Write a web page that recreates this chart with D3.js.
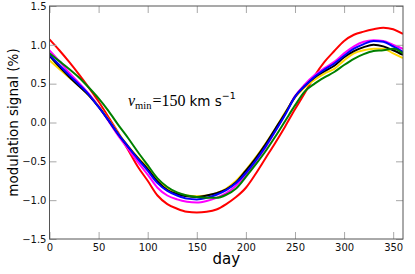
<!DOCTYPE html>
<html>
<head>
<meta charset="utf-8">
<script src="https://cdn.jsdelivr.net/npm/d3@7"></script>
<style>
	body { margin: 0; background: #fff; }
	svg { display: block; }
</style>
</head>
<body>
<svg id="chart" width="415" height="274"></svg>
<script>

var days = d3.range(0, 361, 10);

var redSeries = [1.07, 0.93, 0.78, 0.62, 0.45, 0.27, 0.07, -0.13, -0.35, -0.57, -0.75, -0.94, -1.05, -1.11, -1.15, -1.16, -1.15, -1.12, -1.05, -0.96, -0.84, -0.66, -0.46, -0.26, -0.05, 0.17, 0.38, 0.60, 0.78, 0.92, 1.05, 1.13, 1.17, 1.20, 1.22, 1.20, 1.14];
var magentaSeries = [0.93, 0.79, 0.64, 0.51, 0.37, 0.21, 0.02, -0.17, -0.34, -0.51, -0.67, -0.84, -0.94, -0.99, -1.02, -1.03, -1.01, -0.97, -0.91, -0.81, -0.67, -0.50, -0.32, -0.11, 0.11, 0.34, 0.49, 0.61, 0.70, 0.78, 0.89, 0.98, 1.04, 1.06, 1.05, 1.00, 0.95];
var yellowSeries = [0.80, 0.69, 0.58, 0.47, 0.35, 0.21, 0.04, -0.14, -0.30, -0.45, -0.58, -0.74, -0.85, -0.91, -0.94, -0.95, -0.94, -0.91, -0.85, -0.75, -0.61, -0.45, -0.27, -0.08, 0.13, 0.32, 0.45, 0.55, 0.63, 0.69, 0.80, 0.89, 0.93, 0.95, 0.95, 0.89, 0.83];
var blackSeries = [0.86, 0.72, 0.59, 0.47, 0.35, 0.20, 0.03, -0.15, -0.31, -0.46, -0.60, -0.76, -0.87, -0.92, -0.95, -0.96, -0.94, -0.91, -0.86, -0.77, -0.62, -0.46, -0.28, -0.08, 0.12, 0.33, 0.47, 0.58, 0.66, 0.73, 0.84, 0.92, 0.97, 1.00, 0.98, 0.93, 0.87];
var blueSeries = [0.87, 0.74, 0.61, 0.49, 0.36, 0.20, 0.03, -0.15, -0.31, -0.47, -0.62, -0.78, -0.88, -0.94, -0.98, -0.99, -0.97, -0.93, -0.87, -0.78, -0.65, -0.49, -0.31, -0.11, 0.10, 0.33, 0.47, 0.59, 0.68, 0.76, 0.86, 0.95, 1.01, 1.05, 1.04, 0.98, 0.91];
var greenSeries = [0.89, 0.79, 0.69, 0.58, 0.45, 0.31, 0.15, -0.03, -0.20, -0.38, -0.55, -0.72, -0.83, -0.90, -0.94, -0.96, -0.97, -0.97, -0.93, -0.85, -0.70, -0.54, -0.37, -0.18, 0.02, 0.22, 0.40, 0.50, 0.58, 0.65, 0.74, 0.82, 0.88, 0.92, 0.93, 0.95, 0.89];

var xTicks = [0, 50, 100, 150, 200, 250, 300, 350];
var yTicks = [-1.5, -1.0, -0.5, 0.0, 0.5, 1.0, 1.5];

// drawing order, last on top
var seriesList = [
	{ values: redSeries, color: "#ff0000" },
	{ values: magentaSeries, color: "#ff00ff" },
	{ values: yellowSeries, color: "#ffd700" },
	{ values: blackSeries, color: "#000000" },
	{ values: blueSeries, color: "#0000ff" },
	{ values: greenSeries, color: "#008000" }
];

var LEFT = 49.5, RIGHT = 403, TOP = 6, BOTTOM = 239;
var TICK_LEN = 7;
var TICK_COLOR = "#a8a8a8";
var SPINE_COLOR = "#555555";

var svg = d3.select("#chart");

var x = d3.scaleLinear().domain([0, 360]).range([LEFT, RIGHT]);
var y = d3.scaleLinear().domain([-1.5, 1.5]).range([BOTTOM, TOP]);

svg.append("defs").append("clipPath").attr("id", "plotClip")
	.append("rect")
	.attr("x", LEFT).attr("y", TOP)
	.attr("width", RIGHT - LEFT).attr("height", BOTTOM - TOP);

var line = d3.line()
	.curve(d3.curveMonotoneX)
	.x(function(d) { return x(d[0]); })
	.y(function(d) { return y(d[1]); });

var plot = svg.append("g").attr("clip-path", "url(#plotClip)");

seriesList.forEach(function(s) {
	var pts = days.map(function(d, i) { return [d, s.values[i]]; });
	plot.append("path")
		.attr("d", line(pts))
		.attr("fill", "none")
		.attr("stroke", s.color)
		.attr("stroke-width", 2)
		.attr("stroke-linejoin", "round");
});

// axes: inward ticks on all four sides
function styleAxis(g) {
	g.select(".domain").remove();
	g.selectAll(".tick line").attr("stroke", TICK_COLOR).attr("stroke-width", 1);
	g.selectAll(".tick text")
		.attr("fill", "#111")
		.style("font-family", "DejaVu Sans")
		.style("font-size", "10px");
}

var fmtY = function(v) { return d3.format(".1f")(v).replace("-", "\u2212"); };

svg.append("g")
	.attr("transform", "translate(0," + BOTTOM + ")")
	.call(d3.axisBottom(x).tickValues(xTicks).tickSizeInner(-TICK_LEN).tickSizeOuter(0).tickPadding(5))
	.call(styleAxis);

svg.append("g")
	.attr("transform", "translate(0," + TOP + ")")
	.call(d3.axisTop(x).tickValues(xTicks).tickSizeInner(-TICK_LEN).tickSizeOuter(0).tickFormat(""))
	.call(styleAxis);

svg.append("g")
	.attr("transform", "translate(" + LEFT + ",0)")
	.call(d3.axisLeft(y).tickValues(yTicks).tickSizeInner(-TICK_LEN).tickSizeOuter(0).tickPadding(3).tickFormat(fmtY))
	.call(styleAxis);

svg.append("g")
	.attr("transform", "translate(" + RIGHT + ",0)")
	.call(d3.axisRight(y).tickValues(yTicks).tickSizeInner(-TICK_LEN).tickSizeOuter(0).tickFormat(""))
	.call(styleAxis);

svg.append("rect")
	.attr("x", LEFT).attr("y", TOP)
	.attr("width", RIGHT - LEFT).attr("height", BOTTOM - TOP)
	.attr("fill", "none")
	.attr("stroke", SPINE_COLOR)
	.attr("stroke-width", 1);

// axis titles
svg.append("text")
	.attr("x", (LEFT + RIGHT) / 2)
	.attr("y", 264)
	.attr("text-anchor", "middle")
	.style("font-family", "DejaVu Sans")
	.style("font-size", "15px")
	.text("day");

svg.append("text")
	.attr("transform", "translate(18," + ((TOP + BOTTOM) / 2) + ") rotate(-90)")
	.attr("text-anchor", "middle")
	.style("font-family", "DejaVu Sans")
	.style("font-size", "13.5px")
	.text("modulation signal (%)");

// annotation
var note = svg.append("text")
	.attr("x", 128)
	.attr("y", 106)
	.style("font-size", "16px")
	.style("font-family", "Liberation Serif");
note.append("tspan").style("font-style", "italic").text("v");
note.append("tspan").attr("dy", 3).style("font-size", "10.5px").text("min");
note.append("tspan").attr("dy", -3).attr("dx", 1).text("=150");
note.append("tspan").attr("dx", 4).style("font-family", "DejaVu Sans").style("font-size", "13.5px").text("km s");
note.append("tspan").attr("dy", -7).style("font-family", "DejaVu Sans").style("font-size", "9.5px").text("\u22121");

</script>
</body>
</html>
